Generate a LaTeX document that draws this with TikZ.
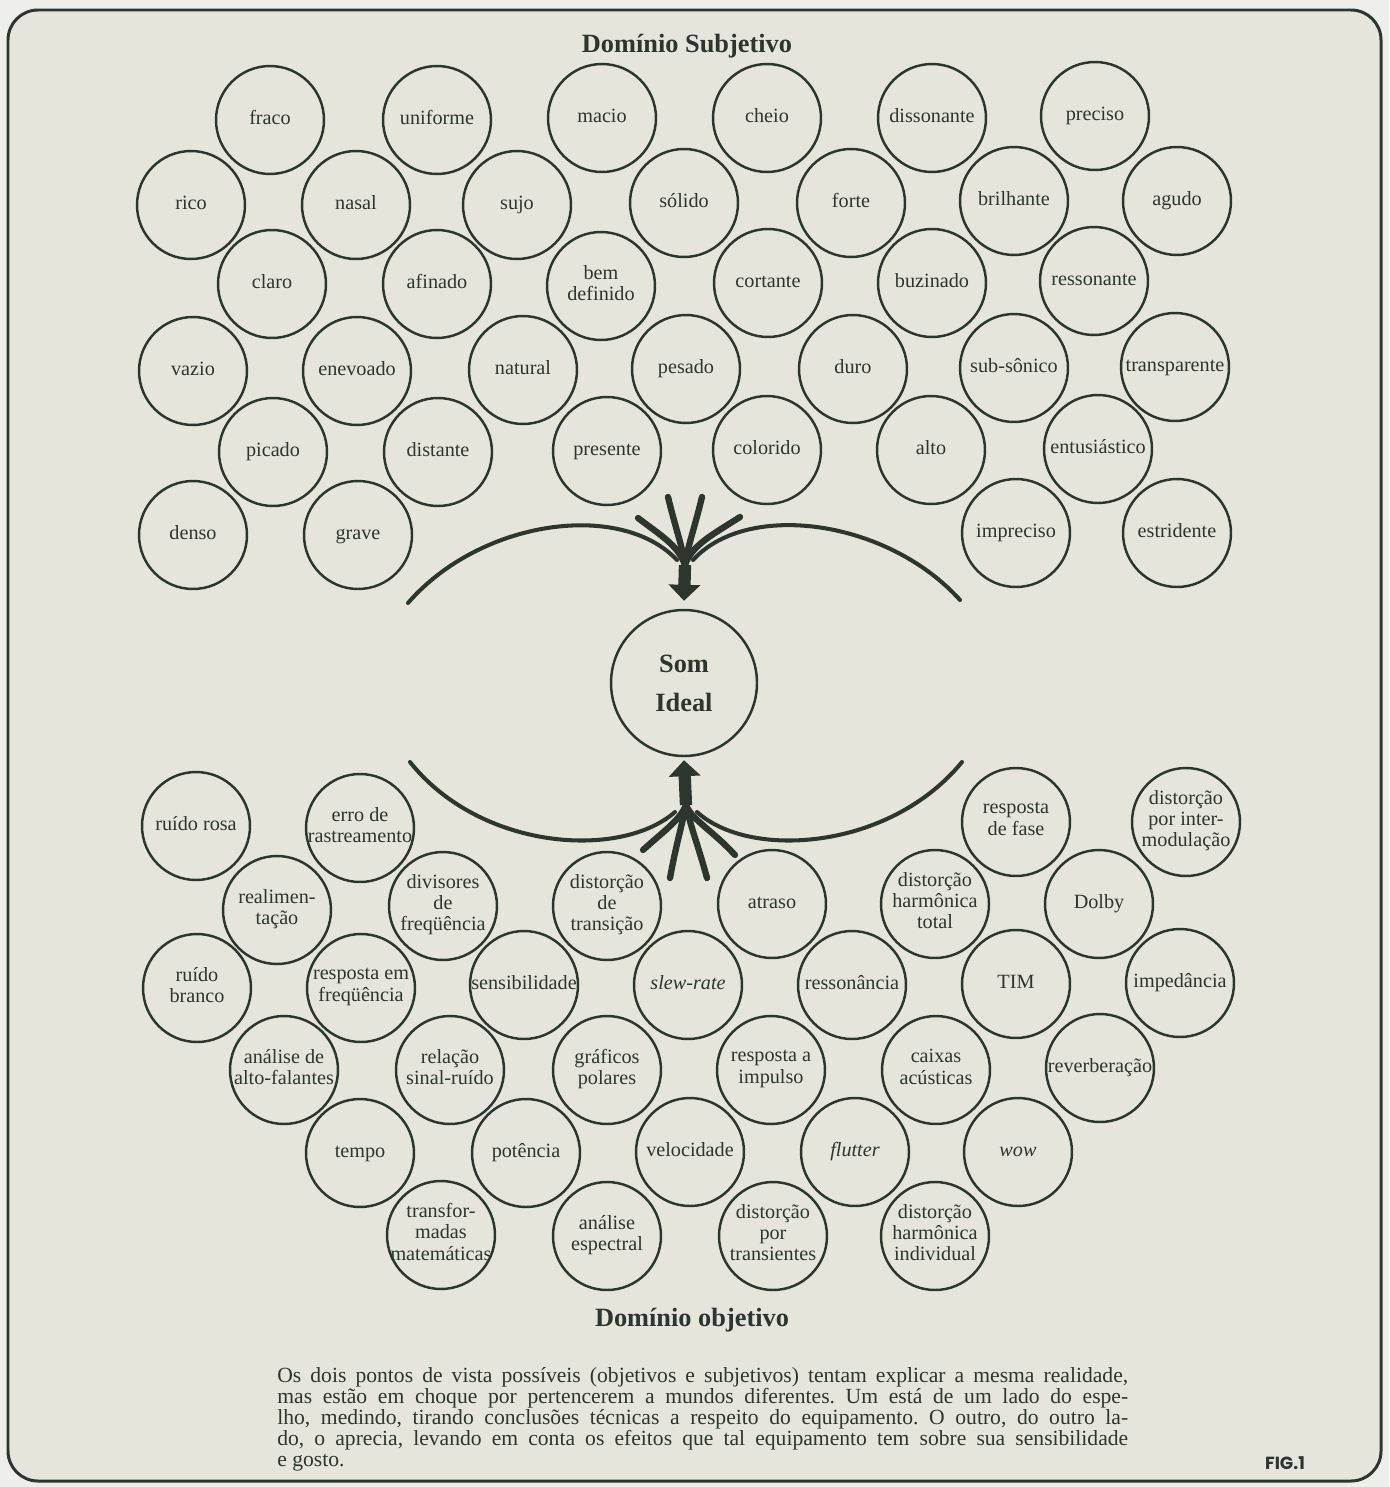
\documentclass[tikz,border=0pt]{standalone}
\usepackage{fontspec}
\setmainfont{Liberation Serif}
\newfontfamily\figfont{Poppins}
\usetikzlibrary{arrows.meta,calc}
\definecolor{ink}{HTML}{2C362E}
\definecolor{paper}{HTML}{E5E5DC}
\definecolor{outside}{HTML}{EFEFEA}

\begin{document}
\begin{tikzpicture}[x=0.02cm, y=-0.02cm,
  word/.style={circle, draw=ink, line width=1.4pt, minimum size=2.16cm, inner sep=-8pt,
    align=center, text=ink, font=\fontsize{11.5}{12}\selectfont,
    execute at begin node=\strut, execute at end node=\strut},
  heading/.style={text=ink, font=\fontsize{15}{18}\selectfont\bfseries},
  bow/.style={draw=ink, line width=2.3pt, line cap=round},
  fan/.style={draw=ink, line width=3.6pt, line cap=round},
  shaft/.style={draw=ink, line width=7pt, -{Triangle[length=0.32cm, width=0.62cm]}}]
\useasboundingbox (0,0) rectangle (1389,1487);

% page and frame
\fill[outside] (0,0) rectangle (1389,1487);
\draw[ink, fill=paper, line width=1.7pt, rounded corners=0.6cm] (8,10) rectangle (1381,1481);

% headings
\node[heading] (subj) at (687,46) {Domínio Subjetivo};
\node[heading] (obj) at (692,1320) {Domínio objetivo};

% subjective domain
\node[word] (fraco) at (270,120) {fraco};
\node[word] (uniforme) at (437,120) {uniforme};
\node[word] (macio) at (602,118) {macio};
\node[word] (cheio) at (767,118) {cheio};
\node[word] (dissonante) at (932,118) {dissonante};
\node[word] (preciso) at (1095,116) {preciso};
\node[word] (rico) at (191,205) {rico};
\node[word] (nasal) at (356,205) {nasal};
\node[word] (sujo) at (517,205) {sujo};
\node[word] (solido) at (684,203) {sólido};
\node[word] (forte) at (851,203) {forte};
\node[word] (brilhante) at (1014,201) {brilhante};
\node[word] (agudo) at (1177,201) {agudo};
\node[word] (claro) at (272,284) {claro};
\node[word] (afinado) at (437,284) {afinado};
\node[word] (bemdefinido) at (601,286) {bem\\definido};
\node[word] (cortante) at (768,283) {cortante};
\node[word] (buzinado) at (932,283) {buzinado};
\node[word] (ressonante) at (1094,281) {ressonante};
\node[word] (vazio) at (193,371) {vazio};
\node[word] (enevoado) at (357,371) {enevoado};
\node[word] (natural) at (523,370) {natural};
\node[word] (pesado) at (686,369) {pesado};
\node[word] (duro) at (853,369) {duro};
\node[word] (subsonico) at (1014,368) {sub-sônico};
\node[word] (transparente) at (1175,367) {transparente};
\node[word] (picado) at (273,452) {picado};
\node[word] (distante) at (438,452) {distante};
\node[word] (presente) at (607,451) {presente};
\node[word] (colorido) at (767,450) {colorido};
\node[word] (alto) at (931,450) {alto};
\node[word] (entusiastico) at (1098,449) {entusiástico};
\node[word] (denso) at (193,535) {denso};
\node[word] (grave) at (358,535) {grave};
\node[word] (impreciso) at (1016,533) {impreciso};
\node[word] (estridente) at (1177,533) {estridente};

% ideal sound
\node[word, minimum size=2.92cm, font=\fontsize{15}{22}\selectfont\bfseries] (ideal) at (684,683)
  {\rule{0pt}{16.5pt}Som\\Ideal};

% upper mirror and arrow
\coordinate (topjoin) at (685,565);
\draw[bow] (408,603) .. controls (480,520) and (620,500) .. (677,560);
\draw[bow] (960,600) .. controls (888,520) and (748,500) .. (693,560);
\draw[fan] (668,497) .. controls (676,530) and (682,545) .. (topjoin);
\draw[fan] (702,497) .. controls (694,530) and (688,545) .. (topjoin);
\draw[fan] (638,518) .. controls (660,535) and (678,545) .. (topjoin);
\draw[fan] (740,517) .. controls (712,535) and (692,545) .. (topjoin);
\draw[shaft] (topjoin) -- ($(ideal.north)+(0,-8)$);

% lower mirror and arrow
\coordinate (botjoin) at (686,805);
\draw[bow] (410,762) .. controls (480,850) and (620,860) .. (675,812);
\draw[bow] (962,762) .. controls (890,850) and (750,860) .. (697,812);
\draw[fan] (643,850) .. controls (665,830) and (680,820) .. (botjoin);
\draw[fan] (670,878) .. controls (676,845) and (682,825) .. (botjoin);
\draw[fan] (707,878) .. controls (698,845) and (690,825) .. (botjoin);
\draw[fan] (735,855) .. controls (712,830) and (692,820) .. (botjoin);
\draw[shaft] (botjoin) -- ($(ideal.south)+(0,3)$);

% objective domain
\node[word] (ruidorosa) at (196,826) {ruído rosa};
\node[word] (erro) at (360,828) {erro de\\rastreamento};
\node[word] (fase) at (1016,822) {resposta\\de fase};
\node[word] (intermod) at (1186,822) {distorção\\por inter-\\modulação};
\node[word] (realim) at (277,910) {realimen-\\tação};
\node[word] (divisores) at (443,906) {divisores\\de\\freqüência};
\node[word] (transicao) at (607,906) {distorção\\de\\transição};
\node[word] (atraso) at (772,904) {atraso};
\node[word] (dht) at (935,904) {distorção\\harmônica\\total};
\node[word] (dolby) at (1099,904) {Dolby};
\node[word] (ruidobranco) at (197,988) {ruído\\branco};
\node[word] (respfreq) at (361,988) {resposta em\\freqüência};
\node[word] (sensib) at (524,985) {sensibilidade};
\node[word] (slew) at (688,985) {\textit{slew-rate}};
\node[word] (resson) at (852,985) {ressonância};
\node[word] (tim) at (1016,984) {TIM};
\node[word] (imped) at (1180,983) {impedância};
\node[word] (altofal) at (284,1070) {análise de\\alto-falantes};
\node[word] (sinalruido) at (450,1070) {relação\\sinal-ruído};
\node[word] (graficos) at (607,1070) {gráficos\\polares};
\node[word] (impulso) at (771,1070) {resposta a\\impulso};
\node[word] (caixas) at (936,1070) {caixas\\acústicas};
\node[word] (reverb) at (1100,1068) {reverberação};
\node[word] (tempo) at (360,1153) {tempo};
\node[word] (potencia) at (526,1153) {potência};
\node[word] (velocidade) at (690,1152) {velocidade};
\node[word] (flutter) at (855,1152) {\textit{flutter}};
\node[word] (wow) at (1018,1152) {\textit{wow}};
\node[word] (transf) at (441,1235) {transfor-\\madas\\matemáticas};
\node[word] (espectral) at (607,1236) {análise\\espectral};
\node[word] (transientes) at (773,1236) {distorção\\por\\transientes};
\node[word] (dhi) at (935,1236) {distorção\\harmônica\\individual};

% caption
\node[anchor=north west, inner sep=0pt, text width=17.02cm, align=justify, text=ink,
  font=\fontsize{12.3}{11.9}\selectfont\frenchspacing] (note) at (277,1367)
  {Os dois pontos de vista possíveis (objetivos e subjetivos) tentam explicar a mesma realidade,\linebreak
   mas estão em choque por pertencerem a mundos diferentes. Um está de um lado do espe-\linebreak
   lho, medindo, tirando conclusões técnicas a respeito do equipamento. O outro, do outro la-\linebreak
   do, o aprecia, levando em conta os efeitos que tal equipamento tem sobre sua sensibilidade\linebreak
   e gosto.};
\node[text=ink, font=\figfont\bfseries\fontsize{10}{12}\selectfont] (fig) at (1285,1463) {FIG.1};

\end{tikzpicture}
\end{document}
